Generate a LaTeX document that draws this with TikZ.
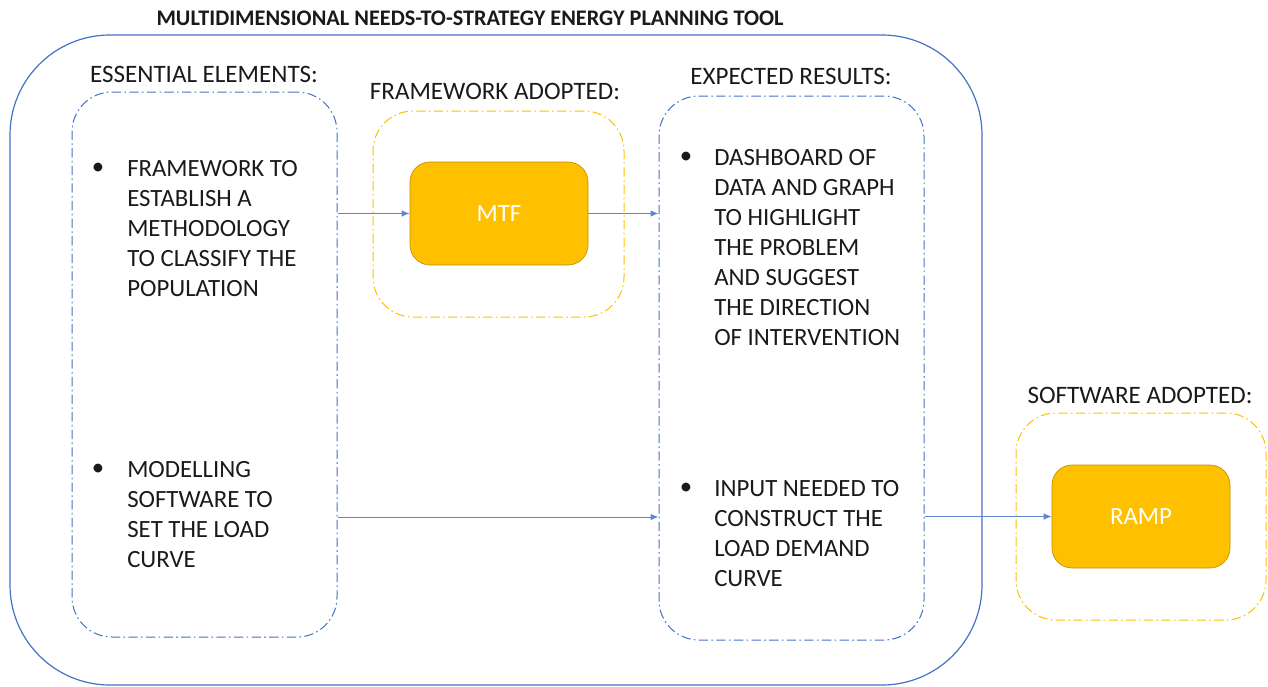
\documentclass[tikz,border=0pt]{standalone}
\usepackage{fontspec}
\setmainfont{Carlito}
\usetikzlibrary{arrows.meta,fit}
\definecolor{accblue}{HTML}{4472C4}
\definecolor{accgold}{HTML}{FFC000}
\definecolor{goldedge}{HTML}{BF9000}
\definecolor{ink}{HTML}{1A1A1A}
\begin{document}
\begin{tikzpicture}[x=0.75pt,y=-0.75pt,
  frame/.style={draw=accblue, line width=0.9pt, rounded corners=75pt, inner sep=0pt},
  group/.style={draw=accblue, line width=0.75pt, dash pattern=on 7pt off 2.5pt on 1.2pt off 2.5pt, rounded corners=30pt, inner sep=0pt},
  adopt/.style={group, draw=accgold},
  tool/.style={fill=accgold, draw=goldedge, line width=0.5pt, rounded corners=15pt, inner sep=0pt},
  toollabel/.style={text=white, font=\fontsize{18.6}{22}\selectfont},
  heading/.style={font=\fontsize{18.8}{22}\selectfont, text=ink},
  body/.style={font=\fontsize{18.6}{22.5}\selectfont, text=ink, align=left, anchor=west, inner sep=0pt},
  dot/.style={font=\fontsize{18.6}{22}\selectfont, text=ink, inner sep=0pt},
  link/.style={draw=accblue!85, line width=0.75pt, -{Latex[length=6pt,width=5pt]}}
]
\useasboundingbox (0,0) rectangle (1268,686);

% title
\node[font=\bfseries\fontsize{16.7}{19}\selectfont, text=ink] (title) at (470,18)
  {MULTIDIMENSIONAL NEEDS-TO-STRATEGY ENERGY PLANNING TOOL};

% outer container
\node[frame, fit={(10,35) (982,685)}] (outer) {};

% group boxes
\node[group, fit={(72,92) (337,637)}] (ess) {};
\node[adopt, fit={(373,111) (624,317)}] (fwk) {};
\node[group, fit={(659,96) (924,640)}] (exp) {};
\node[adopt, fit={(1016,413) (1266,620)}] (sw) {};

% headings
\node[heading] (essh) at (204,74) {ESSENTIAL ELEMENTS:};
\node[heading] (fwkh) at (495,91) {FRAMEWORK ADOPTED:};
\node[heading] (exph) at (791,76) {EXPECTED RESULTS:};
\node[heading] (swh) at (1140,395) {SOFTWARE ADOPTED:};

% tools
\node[tool, fit={(410,162) (588,265)}] (mtf) {};
\node[toollabel] (mtfl) at (mtf.center) {MTF};
\node[tool, fit={(1052,465) (1230,568)}] (ramp) {};
\node[toollabel] (rampl) at (ramp.center) {RAMP};

% bullet lists
\node[dot] (b1) at (98,169) {\textbullet};
\node[body] (t1) at (127,229) {FRAMEWORK TO\\ESTABLISH A\\METHODOLOGY\\TO CLASSIFY THE\\POPULATION};
\node[dot] (b2) at (98,470) {\textbullet};
\node[body] (t2) at (127,515) {MODELLING\\SOFTWARE TO\\SET THE LOAD\\CURVE};
\node[dot] (b3) at (686,158) {\textbullet};
\node[body] (t3) at (714,248) {DASHBOARD OF\\DATA AND GRAPH\\TO HIGHLIGHT\\THE PROBLEM\\AND SUGGEST\\THE DIRECTION\\OF INTERVENTION};
\node[dot] (b4) at (686,489) {\textbullet};
\node[body] (t4) at (714,534) {INPUT NEEDED TO\\CONSTRUCT THE\\LOAD DEMAND\\CURVE};

% connectors
\coordinate (lowrow) at (0,517);
\draw[link] (ess.east |- mtf.west) -- (mtf.west);
\draw[link] (mtf.east) -- (exp.west |- mtf.east);
\draw[link] (ess.east |- lowrow) -- (exp.west |- lowrow);
\draw[link] (exp.east |- ramp.west) -- (ramp.west);
\end{tikzpicture}
\end{document}
